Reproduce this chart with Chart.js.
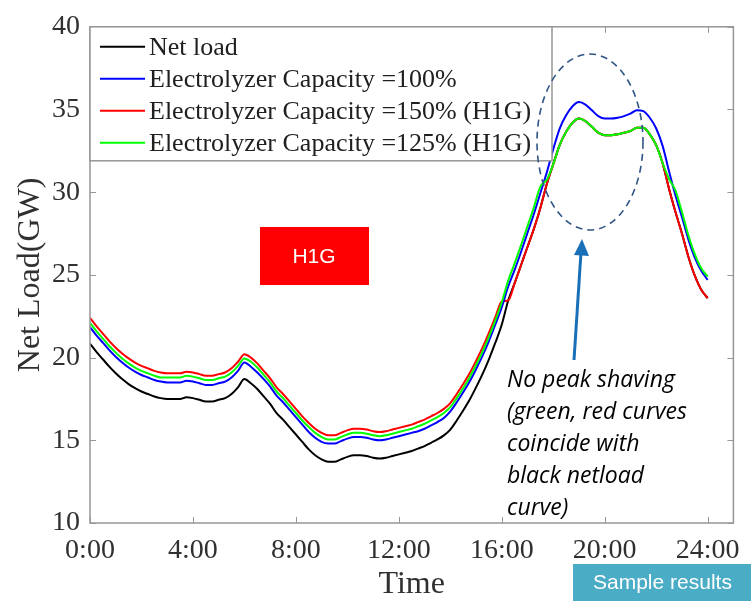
<!DOCTYPE html>
<html>
<head>
<meta charset="utf-8">
<script src="https://cdn.jsdelivr.net/npm/chart.js@4.4.1/dist/chart.umd.min.js"></script>
<style>
  html, body { margin: 0; padding: 0; background: #fff; }
  #wrap { width: 751px; height: 601px; }
</style>
</head>
<body>
<div id="wrap"><canvas id="loadChart" width="751" height="601"></canvas></div>
<script>
// time of day in hours, one point every 15 minutes
let hours = [
    0, 0.25, 0.5, 0.75, 1, 1.25, 1.5, 1.75, 2, 2.25, 2.5, 2.75, 3, 3.25, 3.5, 3.75,
    4, 4.25, 4.5, 4.75, 5, 5.25, 5.5, 5.75, 6, 6.25, 6.5, 6.75, 7, 7.25, 7.5, 7.75,
    8, 8.25, 8.5, 8.75, 9, 9.25, 9.5, 9.75, 10, 10.25, 10.5, 10.75, 11, 11.25, 11.5, 11.75,
    12, 12.25, 12.5, 12.75, 13, 13.25, 13.5, 13.75, 14, 14.25, 14.5, 14.75, 15, 15.25, 15.5, 15.75,
    16, 16.25, 16.5, 16.75, 17, 17.25, 17.5, 17.75, 18, 18.25, 18.5, 18.75, 19, 19.25, 19.5, 19.75,
    20, 20.25, 20.5, 20.75, 21, 21.25, 21.5, 21.75, 22, 22.25, 22.5, 22.75, 23, 23.25, 23.5, 23.75, 24
];

// GW
let netLoad = [
    20.85, 20.35, 19.9, 19.45, 19.05, 18.7, 18.4, 18.15, 17.95, 17.8, 17.65, 17.55, 17.5, 17.5, 17.5, 17.6,
    17.55, 17.45, 17.35, 17.35, 17.45, 17.55, 17.8, 18.2, 18.7, 18.45, 18.1, 17.65, 17.2, 16.65, 16.25, 15.8,
    15.35, 14.9, 14.45, 14.1, 13.85, 13.7, 13.7, 13.85, 14.0, 14.1, 14.1, 14.05, 13.95, 13.9, 13.95, 14.05,
    14.15, 14.25, 14.35, 14.5, 14.65, 14.85, 15.05, 15.3, 15.65, 16.2, 16.8, 17.45, 18.2, 19.0, 19.9, 20.9,
    22.0, 23.45, 24.5, 25.6, 26.7, 27.8, 29.05, 30.5, 31.7, 32.85, 33.65, 34.2, 34.45, 34.3, 33.95, 33.6,
    33.45, 33.45, 33.5, 33.6, 33.7, 33.9, 33.9, 33.5, 32.85, 31.75, 30.2, 28.8, 27.5, 26.1, 24.95, 24.1, 23.6
];

let cap100 = [
    21.85, 21.35, 20.9, 20.45, 20.05, 19.7, 19.4, 19.15, 18.95, 18.8, 18.65, 18.55, 18.5, 18.5, 18.5, 18.6,
    18.55, 18.45, 18.35, 18.35, 18.45, 18.55, 18.8, 19.2, 19.7, 19.45, 19.1, 18.7, 18.25, 17.7, 17.3, 16.85,
    16.4, 15.95, 15.5, 15.15, 14.9, 14.8, 14.8, 14.95, 15.1, 15.2, 15.2, 15.15, 15.05, 15.0, 15.05, 15.15,
    15.25, 15.35, 15.45, 15.55, 15.7, 15.9, 16.1, 16.35, 16.75, 17.3, 17.9, 18.55, 19.3, 20.1, 21.0, 22.0,
    23.05, 24.3, 25.3, 26.4, 27.55, 28.7, 29.95, 31.2, 32.6, 33.85, 34.65, 35.2, 35.45, 35.3, 34.95, 34.6,
    34.45, 34.45, 34.5, 34.6, 34.75, 34.95, 34.9, 34.5, 33.85, 32.8, 31.25, 29.8, 28.5, 27.15, 26.05, 25.25, 24.7
];

let cap150 = [
    22.4, 21.9, 21.45, 21.0, 20.6, 20.25, 19.95, 19.7, 19.5, 19.35, 19.2, 19.1, 19.05, 19.05, 19.05, 19.15,
    19.1, 19.0, 18.9, 18.9, 19.0, 19.1, 19.35, 19.75, 20.2, 20.0, 19.65, 19.2, 18.75, 18.2, 17.8, 17.35,
    16.9, 16.45, 16.05, 15.7, 15.45, 15.3, 15.3, 15.45, 15.6, 15.7, 15.7, 15.65, 15.55, 15.5, 15.55, 15.65,
    15.75, 15.85, 15.95, 16.1, 16.25, 16.45, 16.65, 16.9, 17.25, 17.8, 18.4, 19.05, 19.8, 20.6, 21.5, 22.45,
    23.4, 23.45, 24.5, 25.6, 26.7, 27.8, 29.05, 30.5, 31.7, 32.85, 33.65, 34.2, 34.45, 34.3, 33.95, 33.6,
    33.45, 33.45, 33.5, 33.6, 33.7, 33.9, 33.9, 33.5, 32.85, 31.75, 30.2, 28.8, 27.5, 26.1, 24.95, 24.1, 23.6
];

let cap125 = [
    22.1, 21.6, 21.15, 20.7, 20.3, 19.95, 19.65, 19.4, 19.2, 19.05, 18.9, 18.8, 18.8, 18.8, 18.8, 18.9,
    18.85, 18.75, 18.65, 18.65, 18.75, 18.85, 19.1, 19.5, 19.95, 19.75, 19.4, 18.95, 18.5, 17.95, 17.55, 17.1,
    16.65, 16.2, 15.8, 15.45, 15.2, 15.05, 15.05, 15.2, 15.35, 15.45, 15.45, 15.4, 15.3, 15.25, 15.3, 15.4,
    15.5, 15.6, 15.7, 15.85, 16.0, 16.2, 16.4, 16.65, 17.0, 17.55, 18.15, 18.8, 19.55, 20.35, 21.25, 22.25,
    23.35, 24.65, 25.7, 26.8, 27.95, 29.1, 30.35, 30.75, 31.7, 32.85, 33.65, 34.2, 34.45, 34.3, 33.95, 33.6,
    33.45, 33.45, 33.5, 33.6, 33.7, 33.9, 33.9, 33.5, 32.85, 31.75, 30.8, 30.1, 28.8, 27.4, 26.25, 25.4, 24.9
];

let xTicks = [0, 4, 8, 12, 16, 20, 24];
let yTicks = [10, 15, 20, 25, 30, 35, 40];

let seriesNames = [
    'Net load',
    'Electrolyzer Capacity =100%',
    'Electrolyzer Capacity =150% (H1G)',
    'Electrolyzer Capacity =125% (H1G)'
];
let seriesColors = ['#000000', '#0000ff', '#ff0000', '#00ff00'];

let serif = '"Liberation Serif", "Times New Roman", serif';
let textColor = '#303030';

function points(values) {
    return hours.map((h, i) => ({ x: h, y: values[i] }));
}

function hourLabel(v) {
    return v + ':00';
}

// box, inward ticks and the legend, drawn like a matlab figure
let framePlugin = {
    id: 'frame',
    afterDatasetsDraw(chart) {
        let ctx = chart.ctx;
        let a = chart.chartArea;
        let xs = chart.scales.x;
        let ys = chart.scales.y;
        ctx.save();
        ctx.strokeStyle = '#969696';
        ctx.lineWidth = 1.5;
        ctx.strokeRect(a.left, a.top, a.right - a.left, a.bottom - a.top);
        ctx.lineWidth = 1;
        xTicks.forEach(t => {
            let px = Math.round(xs.getPixelForValue(t)) + 0.5;
            ctx.beginPath();
            ctx.moveTo(px, a.bottom); ctx.lineTo(px, a.bottom - 6);
            ctx.moveTo(px, a.top); ctx.lineTo(px, a.top + 6);
            ctx.stroke();
        });
        yTicks.forEach(t => {
            let py = Math.round(ys.getPixelForValue(t)) + 0.5;
            ctx.beginPath();
            ctx.moveTo(a.left, py); ctx.lineTo(a.left + 6, py);
            ctx.moveTo(a.right, py); ctx.lineTo(a.right - 6, py);
            ctx.stroke();
        });

        // legend
        let lx = a.left, ly = a.top, lw = 462, lh = 134;
        ctx.fillStyle = '#ffffff';
        ctx.fillRect(lx, ly, lw, lh);
        ctx.strokeStyle = '#969696';
        ctx.lineWidth = 1.5;
        ctx.strokeRect(lx, ly, lw, lh);
        ctx.font = '26px ' + serif;
        ctx.textBaseline = 'middle';
        ctx.textAlign = 'left';
        seriesNames.forEach((name, i) => {
            let y = ly + 20 + i * 32;
            ctx.strokeStyle = seriesColors[i];
            ctx.lineWidth = 2;
            ctx.beginPath();
            ctx.moveTo(lx + 10, y); ctx.lineTo(lx + 55, y);
            ctx.stroke();
            ctx.fillStyle = '#202020';
            ctx.fillText(name, lx + 59, y + 1);
        });
        ctx.restore();
    }
};

// slide annotations on top of the chart
let notesPlugin = {
    id: 'notes',
    afterDraw(chart) {
        let ctx = chart.ctx;
        ctx.save();

        ctx.fillStyle = '#ff0000';
        ctx.fillRect(260, 227, 109, 58);
        ctx.fillStyle = '#ffffff';
        ctx.font = '21px "Liberation Sans", Arial, sans-serif';
        ctx.textAlign = 'center';
        ctx.textBaseline = 'middle';
        ctx.fillText('H1G', 314, 257);

        ctx.strokeStyle = '#2f5485';
        ctx.lineWidth = 1.6;
        ctx.setLineDash([7, 5]);
        ctx.beginPath();
        ctx.ellipse(590, 142, 53, 88, 0, 0, Math.PI * 2);
        ctx.stroke();
        ctx.setLineDash([]);

        ctx.strokeStyle = '#1a70b8';
        ctx.fillStyle = '#1a70b8';
        ctx.lineWidth = 3;
        ctx.beginPath();
        ctx.moveTo(574, 360);
        ctx.lineTo(581, 252);
        ctx.stroke();
        ctx.beginPath();
        ctx.moveTo(582, 239);
        ctx.lineTo(589, 256);
        ctx.lineTo(574, 255);
        ctx.closePath();
        ctx.fill();

        ctx.fillStyle = '#000000';
        ctx.font = 'italic 23px "Open Sans", Lato, sans-serif';
        ctx.textAlign = 'left';
        ctx.textBaseline = 'middle';
        let note = ['No peak shaving', '(green, red curves', 'coincide with', 'black netload', 'curve)'];
        note.forEach((line, i) => ctx.fillText(line, 507, 380 + i * 32));

        ctx.fillStyle = '#4bacc6';
        ctx.fillRect(573, 564, 178, 37);
        ctx.fillStyle = '#ffffff';
        ctx.font = '21px "Liberation Sans", Arial, sans-serif';
        ctx.fillText('Sample results', 593, 583);
        ctx.restore();
    }
};

let datasets = [cap125, cap100, cap150, netLoad].map((vals, k) => {
    let idx = [3, 1, 2, 0][k];
    return {
        label: seriesNames[idx],
        data: points(vals),
        borderColor: seriesColors[idx],
        borderWidth: 2,
        pointRadius: 0,
        cubicInterpolationMode: 'monotone',
        fill: false
    };
});

let loadChart = new Chart(document.getElementById('loadChart').getContext('2d'), {
    type: 'line',
    data: { datasets: datasets },
    options: {
        responsive: false,
        animation: false,
        layout: { padding: { left: 0, top: 23, right: 11, bottom: 0 } },
        plugins: {
            legend: { display: false },
            tooltip: { enabled: false }
        },
        scales: {
            x: {
                type: 'linear',
                min: 0,
                max: 25,
                afterBuildTicks: s => { s.ticks = xTicks.map(v => ({ value: v })); },
                afterFit: s => { s.height = 78; },
                grid: { display: false, drawTicks: false },
                border: { display: false },
                ticks: {
                    callback: hourLabel,
                    maxRotation: 0,
                    autoSkip: false,
                    padding: 11,
                    color: textColor,
                    font: { family: serif, size: 28 }
                },
                title: {
                    display: true,
                    text: 'Time',
                    color: textColor,
                    padding: { top: 0, bottom: 0 },
                    font: { family: serif, size: 32, lineHeight: 1 }
                }
            },
            y: {
                min: 10,
                max: 40,
                afterBuildTicks: s => { s.ticks = yTicks.map(v => ({ value: v })); },
                afterFit: s => { s.width = 90; },
                grid: { display: false, drawTicks: false },
                border: { display: false },
                ticks: {
                    padding: 10,
                    color: textColor,
                    font: { family: serif, size: 28 }
                },
                title: {
                    display: true,
                    text: 'Net Load(GW)',
                    color: textColor,
                    padding: { top: 11, bottom: 0 },
                    font: { family: serif, size: 32 }
                }
            }
        }
    },
    plugins: [framePlugin, notesPlugin]
});
</script>
</body>
</html>
